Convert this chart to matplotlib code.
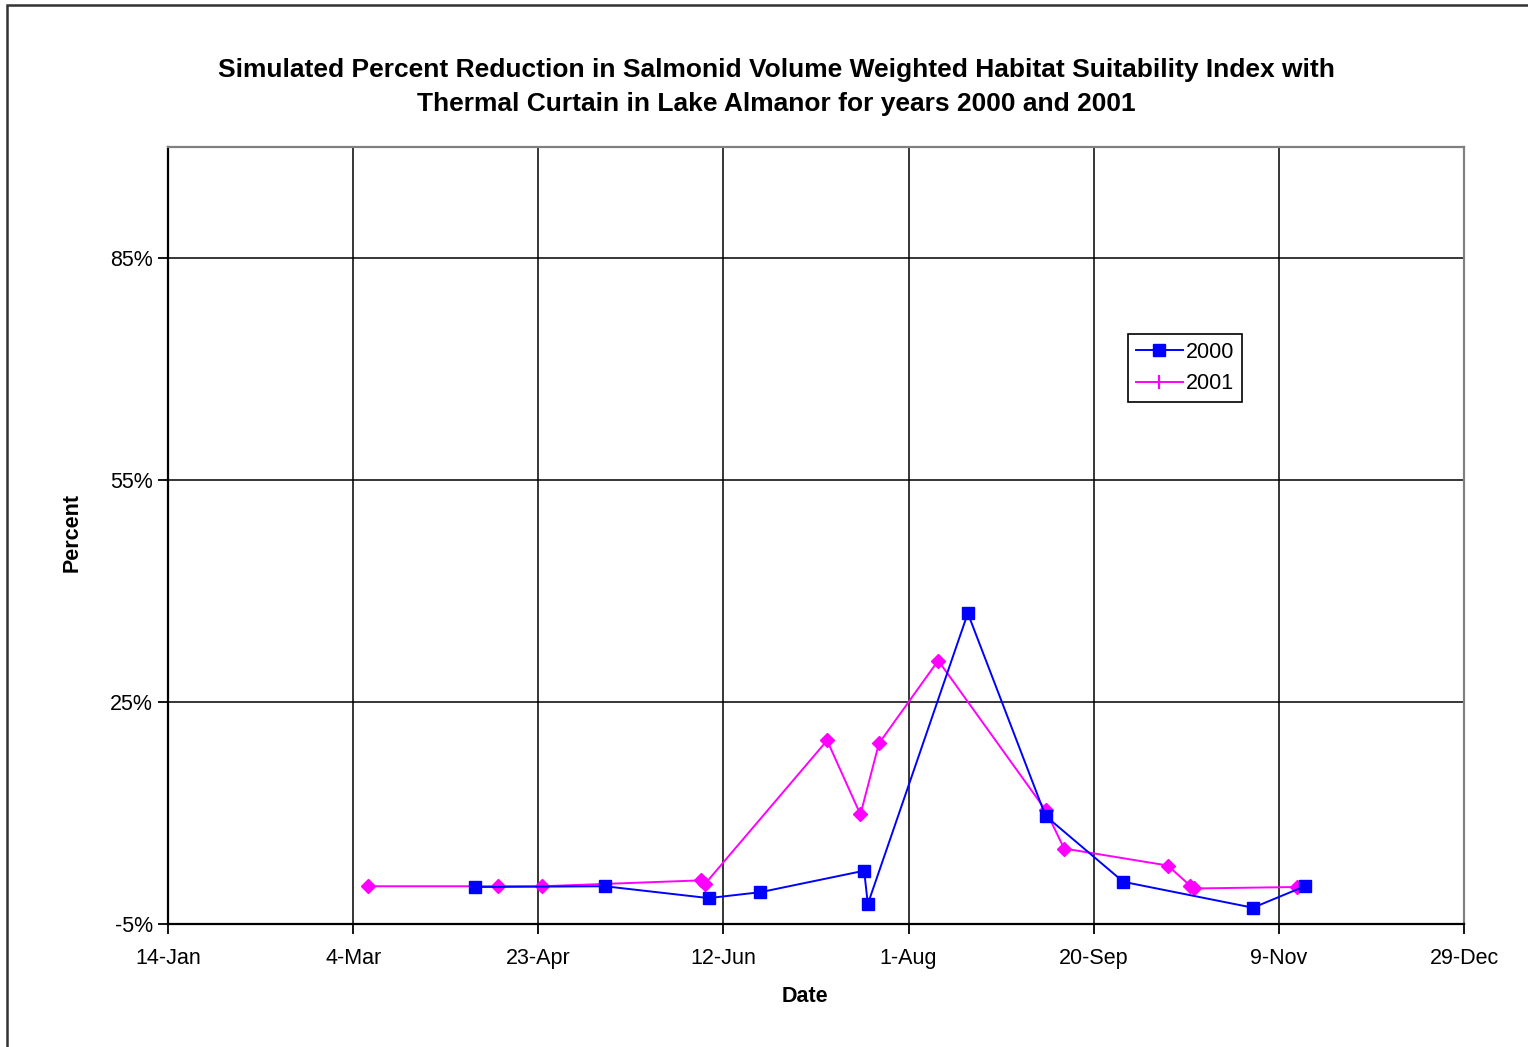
import datetime as dt

import matplotlib
matplotlib.use("Agg")
import matplotlib.pyplot as plt
from matplotlib.lines import Line2D
from matplotlib.patches import Rectangle

plt.rcParams['font.family'] = ['Liberation Sans', 'DejaVu Sans']

# 2000 series (month-day, percent)
dates_2000 = ['04-06', '05-11', '06-08', '06-22', '07-20', '07-21', '08-17',
              '09-07', '09-28', '11-02', '11-16']
pct_2000 = [0.0, 0.1, -1.5, -0.7, 2.2, -2.3, 37.0, 9.6, 0.7, -2.8, 0.1]

# 2001 series, plotted on the same day-of-year axis
dates_2001 = ['03-08', '04-12', '04-24', '06-06', '06-07', '07-10', '07-19',
              '07-24', '08-09', '09-07', '09-12', '10-10', '10-16', '10-17',
              '11-14']
pct_2001 = [0.1, 0.1, 0.1, 0.9, 0.4, 19.8, 9.8, 19.4, 30.6, 10.4, 5.2, 2.9,
            0.2, -0.2, 0.0]

y_ticks = [-5, 25, 55, 85]


def to_dates(md):
    return [dt.datetime(2000, int(s[:2]), int(s[3:])) for s in md]


x0 = dt.datetime(2000, 1, 14)
x_ticks = [x0 + dt.timedelta(days=50 * i) for i in range(8)]

fig = plt.figure(figsize=(15.28, 10.47), dpi=100)
ax = fig.add_axes([168 / 1528, 1 - 924 / 1047, (1464 - 168) / 1528, (924 - 147) / 1047])

ax.plot(to_dates(dates_2000), pct_2000, color='#0000FF', lw=1.4, marker='s',
        markersize=8, markeredgecolor='#0000FF', zorder=4)
ax.plot(to_dates(dates_2001), pct_2001, color='#FF00FF', lw=1.4, marker='D',
        markersize=7, markeredgecolor='#FF00FF', zorder=3)

ax.set_xlim(x_ticks[0], x_ticks[-1])
ax.set_ylim(-5, 100)
ax.set_xticks(x_ticks)
ax.set_xticklabels([f"{d.day}-{d.strftime('%b')}" for d in x_ticks])
ax.set_yticks(y_ticks)
ax.set_yticklabels([f"{v}%" for v in y_ticks])
ax.tick_params(labelsize=15.5, length=7, width=1.3, color='black')
ax.tick_params(axis='x', pad=10)
ax.tick_params(axis='y', pad=4)

ax.grid(True, color='black', lw=1.1)
ax.set_axisbelow(True)
for s in ['left', 'bottom']:
    ax.spines[s].set_linewidth(1.6)
    ax.spines[s].set_color('black')
for s in ['top', 'right']:
    ax.spines[s].set_linewidth(1.6)
    ax.spines[s].set_color('#808080')

handles = [Line2D([], [], color='#0000FF', lw=1.4, marker='s', markersize=8),
           Line2D([], [], color='#FF00FF', lw=1.4, marker='|', markersize=10,
                  markeredgewidth=1.6)]
leg = ax.legend(handles, ['2000', '2001'], loc='upper left',
                bbox_to_anchor=((1128 - 168) / 1296, (924 - 334) / 777),
                fontsize=15.5, frameon=True, fancybox=False, edgecolor='black',
                framealpha=1, borderpad=0.35, handlelength=2.2, handletextpad=0.15,
                labelspacing=0.5, borderaxespad=0)
leg.get_frame().set_linewidth(1.2)

fig.text(776 / 1528, 1 - 70 / 1047,
         'Simulated Percent Reduction in Salmonid Volume Weighted Habitat Suitability Index with',
         ha='center', va='center', fontsize=19, fontweight='bold')
fig.text(776 / 1528, 1 - 104 / 1047,
         'Thermal Curtain in Lake Almanor for years 2000 and 2001',
         ha='center', va='center', fontsize=19, fontweight='bold')
fig.text(805 / 1528, 1 - 997 / 1047, 'Date', ha='center', va='center',
         fontsize=15.5, fontweight='bold')
ylab = fig.text(72 / 1528, 1 - 532 / 1047, 'Percent', ha='center', va='center',
                rotation=90, fontsize=15.5, fontweight='bold')
# the reference cuts the top of the label off
clip = Rectangle((0, 0), 1, 1 - 492 / 1047, transform=fig.transFigure)
ylab.set_clip_path(clip)

fig.patches.append(Rectangle((7 / 1528, -0.1), 1.2, 1 - 5 / 1047 + 0.1,
                             transform=fig.transFigure, fill=False,
                             edgecolor='#333333', lw=1.8))

fig.savefig('out.png', dpi=100)
